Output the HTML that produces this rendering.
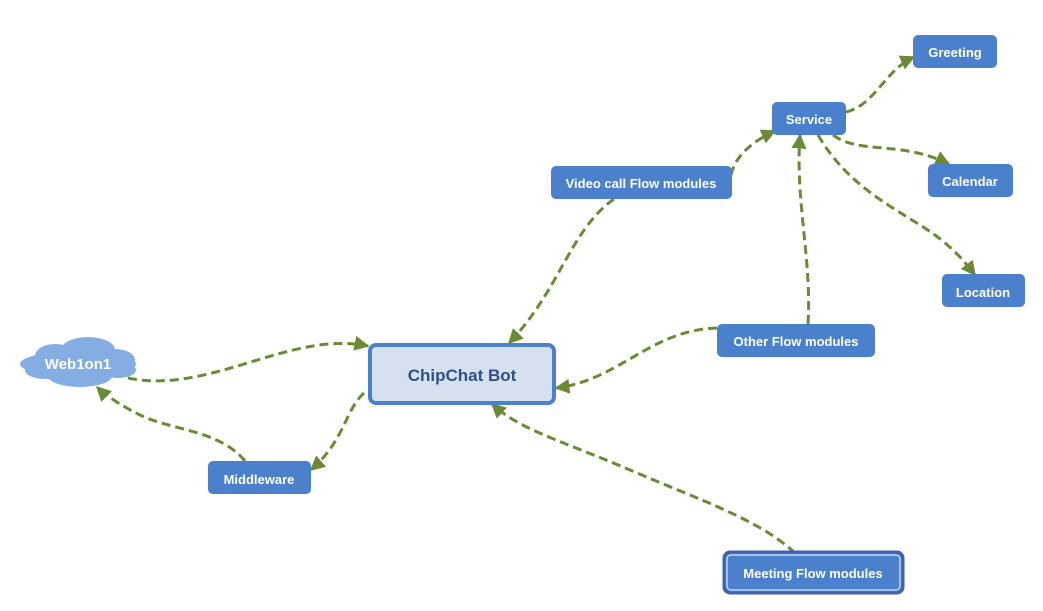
<!DOCTYPE html>
<html><head><meta charset="utf-8"><style>
html,body{margin:0;padding:0;background:#fff;}
svg text{font-family:"Liberation Sans",sans-serif;font-weight:bold;}
</style></head><body>
<svg width="1043" height="606" viewBox="0 0 1043 606" xmlns="http://www.w3.org/2000/svg">
<defs>
<marker id="a" viewBox="0 0 10 10" refX="9" refY="5" markerWidth="5" markerHeight="5" orient="auto" markerUnits="strokeWidth">
<path d="M0,0 L10,5 L0,10 z" fill="#6b8a35"/></marker>
</defs>
<g fill="none" stroke="#6b8a35" stroke-width="3" stroke-dasharray="9,5" marker-end="url(#a)">
<path d="M128,378 C210,395 290,330 368,346"/>
<path d="M245,461 C220,430 170,430 140,415 C120,405 105,395 97,387"/>
<path d="M364,393 C345,410 345,440 311,470"/>
<path d="M614,199 C570,230 560,290 509,343"/>
<path d="M731,175 C735,155 755,140 775,131"/>
<path d="M808,324 C812,260 795,200 800,135"/>
<path d="M717,328 C650,330 620,380 556,388"/>
<path d="M795,553 C760,520 700,500 630,470 C560,440 520,430 492,404"/>
<path d="M846,112 C875,105 885,70 914,57"/>
<path d="M833,135 C860,155 900,140 949,164"/>
<path d="M818,135 C850,190 900,210 935,235 C955,250 965,262 975,275"/>
</g>
<g fill="#84aee3">
<ellipse cx="78" cy="364" rx="58" ry="13"/>
<ellipse cx="55" cy="356" rx="20" ry="12"/>
<ellipse cx="88" cy="350" rx="27" ry="13"/>
<ellipse cx="115" cy="360" rx="20" ry="11"/>
<ellipse cx="45" cy="370" rx="20" ry="9"/>
<ellipse cx="80" cy="376" rx="32" ry="11"/>
<ellipse cx="118" cy="370" rx="18" ry="8"/>
</g>
<text x="78" y="369" fill="#fff" font-size="15" text-anchor="middle">Web1on1</text>
<g fill="#4a80cc">
<rect x="913" y="35" width="84" height="33" rx="5"/>
<rect x="772" y="102" width="74" height="33" rx="5"/>
<rect x="551" y="166" width="181" height="33" rx="5"/>
<rect x="928" y="164" width="85" height="33" rx="5"/>
<rect x="942" y="274" width="83" height="33" rx="5"/>
<rect x="717" y="324" width="158" height="33" rx="5"/>
<rect x="208" y="461" width="103" height="33" rx="5"/>
</g>
<rect x="370" y="345" width="184" height="58" rx="6" fill="#d6e1ef" stroke="#4a80cc" stroke-width="4"/>
<text x="462" y="381" fill="#2f5286" font-size="17" text-anchor="middle">ChipChat Bot</text>
<rect x="724" y="552" width="179" height="41" rx="6" fill="#4a80cc" stroke="#4060b0" stroke-width="3"/>
<rect x="727" y="555" width="173" height="35" rx="4" fill="none" stroke="#fff" stroke-width="1"/>
<g fill="#fff" font-size="13" text-anchor="middle">
<text x="955" y="57">Greeting</text>
<text x="809" y="124">Service</text>
<text x="641" y="188">Video call Flow modules</text>
<text x="970" y="186">Calendar</text>
<text x="983" y="297">Location</text>
<text x="796" y="346">Other Flow modules</text>
<text x="259" y="484">Middleware</text>
<text x="813" y="578">Meeting Flow modules</text>
</g>
</svg>
</body></html>
